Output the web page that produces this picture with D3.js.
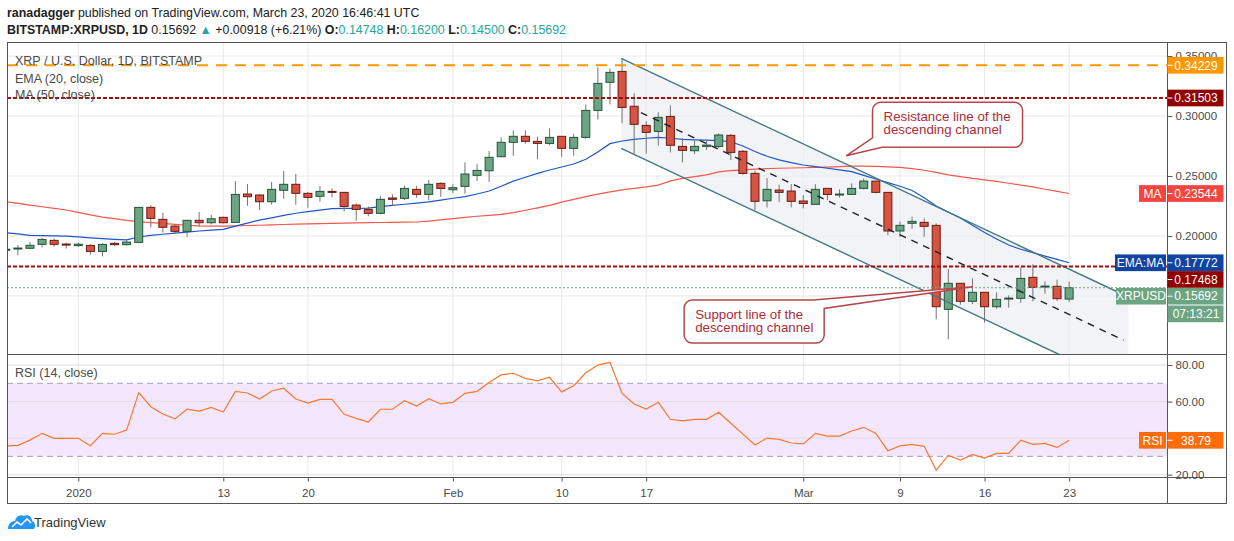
<!DOCTYPE html>
<html>
<head>
<meta charset="utf-8">
<script src="https://cdn.jsdelivr.net/npm/d3@7"></script>
<style>
body { margin: 0; background: #fff; }
svg { display: block; font-family: "Liberation Sans", Arial, sans-serif; }
</style>
</head>
<body>
<div id="chart"></div>
<script>
// daily candles from Dec 26, 2019 to Mar 23, 2020
const firstDay = "2019-12-26";
const opens = [0.1885,0.1893,0.1898,0.1931,0.1964,0.1933,0.1920,0.1922,0.1872,0.1939,
    0.1928,0.1947,0.2239,0.2139,0.2083,0.2039,0.2131,0.2111,0.2156,0.2114,
    0.2350,0.2342,0.2286,0.2381,0.2431,0.2356,0.2331,0.2372,0.2364,0.2258,
    0.2222,0.2189,0.2317,0.2314,0.2389,0.2347,0.2439,0.2386,0.2414,0.2506,
    0.2544,0.2661,0.2781,0.2831,0.2789,0.2772,0.2831,0.2731,0.2822,0.3047,
    0.3281,0.3372,0.3081,0.2922,0.2872,0.2997,0.2747,0.2711,0.2747,0.2747,
    0.2839,0.2706,0.2522,0.2294,0.2383,0.2375,0.2292,0.2264,0.2397,0.2344,
    0.2347,0.2397,0.2458,0.2364,0.2042,0.2106,0.2114,0.2089,0.1389,0.1606,
    0.1456,0.1531,0.1411,0.1478,0.1481,0.1656,0.1575,0.1581,0.14748];
const highs = [0.1905,0.1925,0.1950,0.1986,0.1980,0.1945,0.1945,0.1931,0.1940,0.1950,
    0.1972,0.2240,0.2258,0.2192,0.2094,0.2131,0.2200,0.2175,0.2160,0.2458,
    0.2433,0.2350,0.2450,0.2542,0.2517,0.2367,0.2417,0.2397,0.2364,0.2272,
    0.2247,0.2333,0.2347,0.2419,0.2419,0.2467,0.2447,0.2431,0.2614,0.2600,
    0.2708,0.2822,0.2881,0.2881,0.2828,0.2897,0.2831,0.2850,0.3097,0.3406,
    0.3397,0.3475,0.3189,0.2956,0.3031,0.3089,0.2814,0.2794,0.2794,0.2856,
    0.2850,0.2717,0.2544,0.2483,0.2428,0.2433,0.2342,0.2433,0.2397,0.2389,
    0.2439,0.2478,0.2458,0.2364,0.2120,0.2161,0.2147,0.2106,0.1725,0.1606,
    0.1647,0.1531,0.1531,0.1506,0.1739,0.1764,0.1622,0.1636,0.16200];
const lows = [0.1870,0.1840,0.1890,0.1906,0.1910,0.1895,0.1910,0.1844,0.1830,0.1918,
    0.1922,0.1940,0.2072,0.2028,0.2017,0.1994,0.2078,0.2097,0.2105,0.2114,
    0.2253,0.2217,0.2261,0.2311,0.2261,0.2236,0.2286,0.2322,0.2203,0.2128,
    0.2164,0.2181,0.2250,0.2300,0.2319,0.2297,0.2328,0.2358,0.2353,0.2458,
    0.2450,0.2658,0.2669,0.2769,0.2639,0.2758,0.2661,0.2669,0.2811,0.2972,
    0.3097,0.2939,0.2686,0.2686,0.2753,0.2697,0.2614,0.2683,0.2719,0.2733,
    0.2633,0.2511,0.2217,0.2239,0.2283,0.2239,0.2231,0.2264,0.2300,0.2322,
    0.2347,0.2389,0.2356,0.2008,0.1994,0.2060,0.1994,0.1306,0.1139,0.1428,
    0.1433,0.1278,0.1394,0.1403,0.1444,0.1456,0.1519,0.1460,0.14500];
const closes = [0.1890,0.1900,0.1923,0.1972,0.1931,0.1930,0.1932,0.1872,0.1930,0.1928,
    0.1950,0.2239,0.2147,0.2073,0.2039,0.2131,0.2111,0.2144,0.2111,0.2347,
    0.2328,0.2286,0.2389,0.2431,0.2356,0.2322,0.2372,0.2370,0.2247,0.2222,
    0.2189,0.2306,0.2306,0.2397,0.2347,0.2431,0.2397,0.2403,0.2517,0.2547,
    0.2656,0.2781,0.2831,0.2789,0.2772,0.2822,0.2731,0.2822,0.3047,0.3272,
    0.3364,0.3072,0.2931,0.2864,0.2989,0.2756,0.2714,0.2747,0.2758,0.2842,
    0.2697,0.2522,0.2289,0.2389,0.2364,0.2289,0.2272,0.2389,0.2347,0.2350,
    0.2397,0.2458,0.2364,0.2042,0.2089,0.2122,0.2081,0.1411,0.1606,0.1456,
    0.1531,0.1411,0.1472,0.1483,0.1647,0.1572,0.1583,0.1478,0.15692];
const ema20 = [0.2028,0.2018,0.2005,0.2003,0.2001,0.2000,0.1993,0.1985,0.1978,0.1973,
    0.1968,0.1992,0.2005,0.2015,0.2025,0.2033,0.2042,0.2049,0.2056,0.2082,
    0.2108,0.2133,0.2152,0.2172,0.2190,0.2204,0.2216,0.2228,0.2230,0.2231,
    0.2233,0.2245,0.2255,0.2265,0.2274,0.2284,0.2300,0.2315,0.2328,0.2350,
    0.2375,0.2415,0.2458,0.2490,0.2522,0.2550,0.2575,0.2600,0.2640,0.2700,
    0.2770,0.2792,0.2805,0.2815,0.2822,0.2815,0.2806,0.2802,0.2800,0.2795,
    0.2786,0.2750,0.2705,0.2665,0.2635,0.2612,0.2592,0.2578,0.2565,0.2552,
    0.2537,0.2505,0.2475,0.2445,0.2415,0.2380,0.2320,0.2250,0.2200,0.2150,
    0.2090,0.2030,0.1975,0.1925,0.1890,0.1862,0.1833,0.1805,0.17772];
const ma50 = [0.2286,0.2272,0.2258,0.2244,0.2230,0.2217,0.2197,0.2176,0.2158,0.2145,
    0.2130,0.2120,0.2112,0.2105,0.2098,0.2090,0.2085,0.2083,0.2083,0.2085,
    0.2088,0.2090,0.2093,0.2096,0.2099,0.2102,0.2104,0.2106,0.2108,0.2110,
    0.2111,0.2113,0.2114,0.2116,0.2117,0.2125,0.2135,0.2145,0.2155,0.2165,
    0.2172,0.2180,0.2195,0.2215,0.2235,0.2255,0.2282,0.2305,0.2328,0.2350,
    0.2368,0.2385,0.2398,0.2410,0.2425,0.2460,0.2480,0.2495,0.2510,0.2535,
    0.2545,0.2552,0.2557,0.2561,0.2565,0.2567,0.2569,0.2572,0.2575,0.2578,
    0.2582,0.2582,0.2580,0.2577,0.2572,0.2562,0.2548,0.2530,0.2510,0.2495,
    0.2480,0.2468,0.2455,0.2440,0.2425,0.2410,0.2390,0.2372,0.23544];
const rsi14 = [35.7,36.0,38.9,42.6,39.9,39.9,39.9,35.8,42.6,42.1,
    44.4,64.9,57.2,53.2,50.5,55.8,54.8,56.8,54.3,65.6,
    64.7,61.4,65.8,67.3,61.4,59.2,61.2,61.2,53.0,50.8,
    48.8,55.8,55.8,60.5,57.6,61.6,58.7,59.6,64.5,65.6,
    70.4,74.6,75.5,72.7,71.3,73.3,65.3,68.7,75.8,80.0,
    81.5,64.5,58.7,55.9,59.6,50.3,49.4,50.3,50.3,54.1,
    48.1,42.2,36.2,40.0,39.3,37.3,36.8,42.6,41.1,41.1,
    43.9,45.9,42.6,33.1,35.7,36.6,35.5,22.5,30.5,28.0,
    31.1,29.1,31.6,31.6,38.9,36.6,37.1,34.9,38.79];

const priceTicks = [0.15, 0.20, 0.25, 0.30, 0.35];
const rsiTicks = [20, 40, 60, 80];
const dateTicks = ["2020-01-01","2020-01-13","2020-01-20","2020-02-01","2020-02-10",
    "2020-02-17","2020-03-01","2020-03-09","2020-03-16","2020-03-23"];
const dateTickLabels = ["2020","13","20","Feb","10","17","Mar","9","16","23"];

// horizontal levels drawn by the author
const levelPrices = [0.34229, 0.31503, 0.17468];
const levelKinds = ["orange", "red", "red"];

// descending channel (start / end)
const channelDays = ["2020-02-14T22:19Z", "2020-03-27T21:36Z"];
const upperPrices = [0.3481, 0.1492];
const lowerPrices = [0.2731, 0.0742];
const midDays = ["2020-02-16T13:26Z", "2020-03-27T12:00Z"];
const midPrices = [0.3028, 0.1133];

const W = 1234, H = 541;
const plotL = 7, plotR = 1167, frameR = 1227;
const priceTop = 42, priceBot = 354.5, rsiBot = 477, frameBot = 504;

const upColor = "#6ba583", upBorder = "#225437";
const downColor = "#d75442", downBorder = "#6b1a13";
const gridColor = "#e8e8ea";
const frameColor = "#555";
const tealText = "#26a69a";

const start = new Date(firstDay + "T00:00Z");
const candles = closes.map((c, i) => ({
    date: d3.utcDay.offset(start, i),
    o: opens[i], h: highs[i], l: lows[i], c: c,
    ema: ema20[i], ma: ma50[i], rsi: rsi14[i]
}));

let x = d3.scaleUtc()
    .domain([new Date(Date.UTC(2019, 11, 26, 2, 23)), new Date(Date.UTC(2020, 2, 31, 2, 23))])
    .range([plotL, plotR]);
let y = d3.scaleLinear().domain([0.1017, 0.3617]).range([354, 42]);
let yR = d3.scaleLinear().domain([18.7, 85.5]).range([477, 355]);

let svg = d3.select("#chart").append("svg")
    .attr("width", W).attr("height", H);
svg.append("rect").attr("width", W).attr("height", H).attr("fill", "#fff");

let defs = svg.append("defs");
defs.append("clipPath").attr("id", "clipPrice").append("rect")
    .attr("x", plotL).attr("y", priceTop).attr("width", plotR - plotL).attr("height", priceBot - priceTop);
defs.append("clipPath").attr("id", "clipRsi").append("rect")
    .attr("x", plotL).attr("y", priceBot).attr("width", plotR - plotL).attr("height", rsiBot - priceBot);

// header
let head1 = svg.append("text").attr("x", 7).attr("y", 17).style("font-size", "12.4px").attr("fill", "#222");
head1.append("tspan").style("font-weight", "bold").text("ranadagger");
head1.append("tspan").text(" published on TradingView.com, March 23, 2020 16:46:41 UTC");

let head2 = svg.append("text").attr("x", 7).attr("y", 34).style("font-size", "12.4px").attr("fill", "#222");
head2.append("tspan").style("font-weight", "bold").text("BITSTAMP:XRPUSD, 1D");
head2.append("tspan").text(" 0.15692 ");
head2.append("tspan").attr("fill", tealText).text("▲");
head2.append("tspan").text(" +0.00918 (+6.21%) ");
[["O:", "0.14748"], ["H:", "0.16200"], ["L:", "0.14500"], ["C:", "0.15692"]].forEach(function(p, k) {
    head2.append("tspan").style("font-weight", "bold").text((k ? " " : "") + p[0]);
    head2.append("tspan").attr("fill", tealText).text(p[1]);
});

// grid
let grid = svg.append("g");
grid.selectAll(".vg").data(dateTicks).enter().append("line")
    .attr("x1", d => x(new Date(d + "T00:00Z"))).attr("x2", d => x(new Date(d + "T00:00Z")))
    .attr("y1", priceTop).attr("y2", rsiBot)
    .attr("stroke", gridColor);
grid.selectAll(".hg").data(priceTicks).enter().append("line")
    .attr("x1", plotL).attr("x2", plotR)
    .attr("y1", d => y(d)).attr("y2", d => y(d))
    .attr("stroke", gridColor).attr("clip-path", "url(#clipPrice)");

// rsi band
let rsiG = svg.append("g").attr("clip-path", "url(#clipRsi)");
rsiG.append("rect").attr("x", plotL).attr("width", plotR - plotL)
    .attr("y", yR(70)).attr("height", yR(30) - yR(70)).attr("fill", "#f4e6fd");
rsiG.selectAll(".rg").data(rsiTicks).enter().append("line")
    .attr("x1", plotL).attr("x2", plotR)
    .attr("y1", d => yR(d)).attr("y2", d => yR(d))
    .attr("stroke", "#e2dce6");
rsiG.selectAll(".rb").data([70, 30]).enter().append("line")
    .attr("x1", plotL).attr("x2", plotR)
    .attr("y1", d => yR(d)).attr("y2", d => yR(d))
    .attr("stroke", "#aaa2b0").attr("stroke-dasharray", "6,4");
rsiG.append("path").datum(candles)
    .attr("fill", "none").attr("stroke", "#f7792e").attr("stroke-width", 1.2)
    .attr("d", d3.line().x(d => x(d.date)).y(d => yR(d.rsi)));
svg.append("text").attr("x", 15).attr("y", 377).style("font-size", "12.5px")
    .attr("fill", "#4a4a4a").text("RSI (14, close)");

// price pane
let pane = svg.append("g").attr("clip-path", "url(#clipPrice)");

let ch = channelDays.map(d => new Date(d));
pane.append("path")
    .attr("d", d3.line()([[x(ch[0]), y(upperPrices[0])], [x(ch[1]), y(upperPrices[1])],
        [x(ch[1]), y(lowerPrices[1])], [x(ch[0]), y(lowerPrices[0])]]) + "Z")
    .attr("fill", "#e9ecf1").attr("fill-opacity", 0.65);

pane.append("path").datum(candles)
    .attr("fill", "none").attr("stroke", "#f5584c").attr("stroke-width", 1.2)
    .attr("d", d3.line().x(d => x(d.date)).y(d => y(d.ma)));
pane.append("path").datum(candles)
    .attr("fill", "none").attr("stroke", "#1f56c7").attr("stroke-width", 1.2)
    .attr("d", d3.line().x(d => x(d.date)).y(d => y(d.ema)));

let bars = pane.selectAll(".candle").data(candles).enter().append("g");
bars.append("line")
    .attr("x1", d => x(d.date)).attr("x2", d => x(d.date))
    .attr("y1", d => y(d.h)).attr("y2", d => y(d.l))
    .attr("stroke", "#737375");
bars.append("rect")
    .attr("x", d => x(d.date) - 4).attr("width", 8)
    .attr("y", d => y(Math.max(d.o, d.c)))
    .attr("height", d => Math.max(1, Math.abs(y(d.o) - y(d.c))))
    .attr("fill", d => d.c >= d.o ? upColor : downColor)
    .attr("stroke", d => d.c >= d.o ? upBorder : downBorder);

// channel lines
pane.selectAll(".chl").data([upperPrices, lowerPrices]).enter().append("line")
    .attr("x1", x(ch[0])).attr("x2", x(ch[1]))
    .attr("y1", d => y(d[0])).attr("y2", d => y(d[1]))
    .attr("stroke", "#427a80").attr("stroke-width", 1.4);
let md = midDays.map(d => new Date(d));
pane.append("line")
    .attr("x1", x(md[0])).attr("x2", x(md[1]))
    .attr("y1", y(midPrices[0])).attr("y2", y(midPrices[1]))
    .attr("stroke", "#222").attr("stroke-width", 1.4).attr("stroke-dasharray", "7,6");

// levels
pane.selectAll(".lvl").data(levelPrices).enter().append("line")
    .attr("x1", plotL).attr("x2", plotR)
    .attr("y1", d => y(d)).attr("y2", d => y(d))
    .attr("stroke", (d, i) => levelKinds[i] === "orange" ? "#ff9800" : "#a30f0f")
    .attr("stroke-width", 2)
    .attr("stroke-dasharray", (d, i) => levelKinds[i] === "orange" ? "11,8" : "4,2");

// last price line
let last = candles[candles.length - 1];
pane.append("line").attr("x1", plotL).attr("x2", plotR)
    .attr("y1", y(last.c)).attr("y2", y(last.c))
    .attr("stroke", upColor).attr("stroke-dasharray", "2,2");

// legend
[["XRP / U.S. Dollar, 1D, BITSTAMP", 65], ["EMA (20, close)", 83], ["MA (50, close)", 99]].forEach(function(t) {
    svg.append("text").attr("x", 15).attr("y", t[1]).style("font-size", "12.5px")
        .attr("fill", "#4a4a4a").text(t[0]);
});

// callouts
function calloutPath(bx, by, w, h, tx, ty, corner) {
    let r = 8, p = d3.path();
    if (corner === "bl") {
        p.moveTo(bx + r, by);
        p.lineTo(bx + w - r, by); p.arcTo(bx + w, by, bx + w, by + r, r);
        p.lineTo(bx + w, by + h - r); p.arcTo(bx + w, by + h, bx + w - r, by + h, r);
        p.lineTo(bx + 9.5, by + h); p.lineTo(tx, ty); p.lineTo(bx, by + h - 9.5);
        p.lineTo(bx, by + r); p.arcTo(bx, by, bx + r, by, r);
    } else {
        p.moveTo(bx + r, by);
        p.lineTo(bx + w - 11, by); p.lineTo(tx, ty); p.lineTo(bx + w, by + 8.5);
        p.lineTo(bx + w, by + h - r); p.arcTo(bx + w, by + h, bx + w - r, by + h, r);
        p.lineTo(bx + r, by + h); p.arcTo(bx, by + h, bx, by + h - r, r);
        p.lineTo(bx, by + r); p.arcTo(bx, by, bx + r, by, r);
    }
    p.closePath();
    return p.toString();
}
const notes = [
    {box: ["2020-03-06T17:31Z", 0.3114], tip: ["2020-03-04T13:12Z", 0.2669], w: 150, h: 45, corner: "bl",
        lines: ["Resistance line of the", "descending channel"]},
    {box: ["2020-02-20T03:22Z", 0.1467], tip: ["2020-03-15T00:29Z", 0.1578], w: 140, h: 43, corner: "tr",
        lines: ["Support line of the", "descending channel"]}
];
notes.forEach(function(n) {
    let bx = x(new Date(n.box[0])), by = y(n.box[1]);
    svg.append("path")
        .attr("d", calloutPath(bx, by, n.w, n.h, x(new Date(n.tip[0])), y(n.tip[1]), n.corner))
        .attr("fill", "#fff").attr("stroke", "#b5474b").attr("stroke-width", 1.5);
    n.lines.forEach(function(t, k) {
        svg.append("text").attr("x", bx + 11).attr("y", by + 19 + k * 13)
            .style("font-size", "13.3px").attr("fill", "#ad2b36").text(t);
    });
});

// frame
let frame = svg.append("g").attr("stroke", frameColor).attr("fill", "none");
frame.append("rect").attr("x", plotL + 0.5).attr("y", priceTop + 0.5)
    .attr("width", frameR - plotL - 1).attr("height", frameBot - priceTop - 1);
frame.append("line").attr("x1", plotR + 0.5).attr("x2", plotR + 0.5).attr("y1", priceTop).attr("y2", frameBot);
frame.append("line").attr("x1", plotL).attr("x2", frameR).attr("y1", priceBot).attr("y2", priceBot);
frame.append("line").attr("x1", plotL).attr("x2", frameR).attr("y1", rsiBot + 0.5).attr("y2", rsiBot + 0.5);

// axes
function styleAxis(g) {
    g.select(".domain").remove();
    g.selectAll("line").attr("stroke", frameColor);
    g.selectAll("text").attr("fill", "#4a4a4a").style("font-size", "11.5px")
        .style("font-family", "Liberation Sans, Arial, sans-serif");
}
// labels that sit fully under a value tag are hidden, as on the reference
svg.append("g").attr("transform", `translate(${plotR + 0.5},0)`)
    .call(d3.axisRight(y).tickValues(priceTicks).tickSize(5).tickPadding(3).tickFormat(d3.format(".5f")))
    .call(styleAxis)
    .selectAll(".tick").filter(d => d === 0.15).select("text").remove();
svg.append("g").attr("transform", `translate(${plotR + 0.5},0)`)
    .call(d3.axisRight(yR).tickValues(rsiTicks).tickSize(5).tickPadding(3).tickFormat(d3.format(".2f")))
    .call(styleAxis)
    .selectAll(".tick").filter(d => d === 40).select("text").remove();
svg.append("g").attr("transform", `translate(0,${rsiBot + 0.5})`)
    .call(d3.axisBottom(x).tickValues(dateTicks.map(d => new Date(d + "T00:00Z")))
        .tickSize(4).tickPadding(7).tickFormat((d, i) => dateTickLabels[i]))
    .call(styleAxis);

// right side labels, pushed down when they overlap
const labelH = 16.7;
let tags = [
    {v: levelPrices[0], color: "#ff9800"},
    {v: levelPrices[1], color: "#900000"},
    {v: last.ma, color: "#f2453d", tag: "MA", tagW: 27},
    {v: last.ema, color: "#0e44a2", tag: "EMA:MA", tagW: 51},
    {v: levelPrices[2], color: "#900000"},
    {v: last.c, color: upColor, tag: "XRPUSD", tagW: 50, extra: "07:13:21"}
];
tags.sort((a, b) => y(a.v) - y(b.v));
let prevBottom = -1e9;
tags.forEach(function(t) {
    t.cy = Math.max(y(t.v), prevBottom + labelH / 2);
    prevBottom = t.cy + labelH / 2 + (t.extra ? labelH + 1 : 0);
});
let tagG = svg.append("g").style("font-size", "12px");
tags.forEach(function(t) {
    let top = t.cy - labelH / 2;
    tagG.append("rect").attr("x", plotR + 0.5).attr("y", top).attr("width", 56).attr("height", labelH).attr("fill", t.color);
    tagG.append("line").attr("x1", plotR + 0.5).attr("x2", plotR + 5.5).attr("y1", t.cy).attr("y2", t.cy).attr("stroke", "#fff");
    tagG.append("text").attr("x", plotR + 29).attr("y", t.cy + 4.3).attr("text-anchor", "middle")
        .attr("fill", "#fff").text(d3.format(".5f")(t.v));
    if (t.tag) {
        tagG.append("rect").attr("x", plotR - 1 - t.tagW).attr("y", top).attr("width", t.tagW).attr("height", labelH).attr("fill", t.color);
        tagG.append("text").attr("x", plotR - 1 - t.tagW / 2).attr("y", t.cy + 4.3).attr("text-anchor", "middle")
            .attr("fill", "#fff").text(t.tag);
    }
    if (t.extra) {
        tagG.append("rect").attr("x", plotR + 0.5).attr("y", top + labelH + 1).attr("width", 56).attr("height", labelH).attr("fill", t.color);
        tagG.append("text").attr("x", plotR + 29).attr("y", t.cy + labelH + 5.3).attr("text-anchor", "middle")
            .attr("fill", "#fff").text(t.extra);
    }
});

// rsi label
let rsiY = yR(last.rsi);
tagG.append("rect").attr("x", plotR + 0.5).attr("y", rsiY - labelH / 2).attr("width", 56).attr("height", labelH).attr("fill", "#ff6d0a");
tagG.append("line").attr("x1", plotR + 0.5).attr("x2", plotR + 5.5).attr("y1", rsiY).attr("y2", rsiY).attr("stroke", "#fff");
tagG.append("text").attr("x", plotR + 29).attr("y", rsiY + 4.3).attr("text-anchor", "middle")
    .attr("fill", "#fff").text(d3.format(".2f")(last.rsi));
tagG.append("rect").attr("x", plotR - 28).attr("y", rsiY - labelH / 2).attr("width", 27).attr("height", labelH).attr("fill", "#ff6d0a");
tagG.append("text").attr("x", plotR - 14.5).attr("y", rsiY + 4.3).attr("text-anchor", "middle")
    .attr("fill", "#fff").text("RSI");

// TradingView mark
let logo = svg.append("g").attr("transform", "translate(8,513)");
logo.append("path")
    .attr("d", "M0,16 C0,11 3,8 7,8 C8,3 12,1 16,3 C19,1 24,3 24,8 C27,9 28,13 26,16 Z")
    .attr("fill", "#2196f3");
logo.append("path").attr("d", "M4,14 L9,9 L13,12 L19,6 L23,10")
    .attr("fill", "none").attr("stroke", "#fff").attr("stroke-width", 1.6);
svg.append("text").attr("x", 34).attr("y", 527).style("font-size", "13px")
    .attr("fill", "#333").text("TradingView");
</script>
</body>
</html>
